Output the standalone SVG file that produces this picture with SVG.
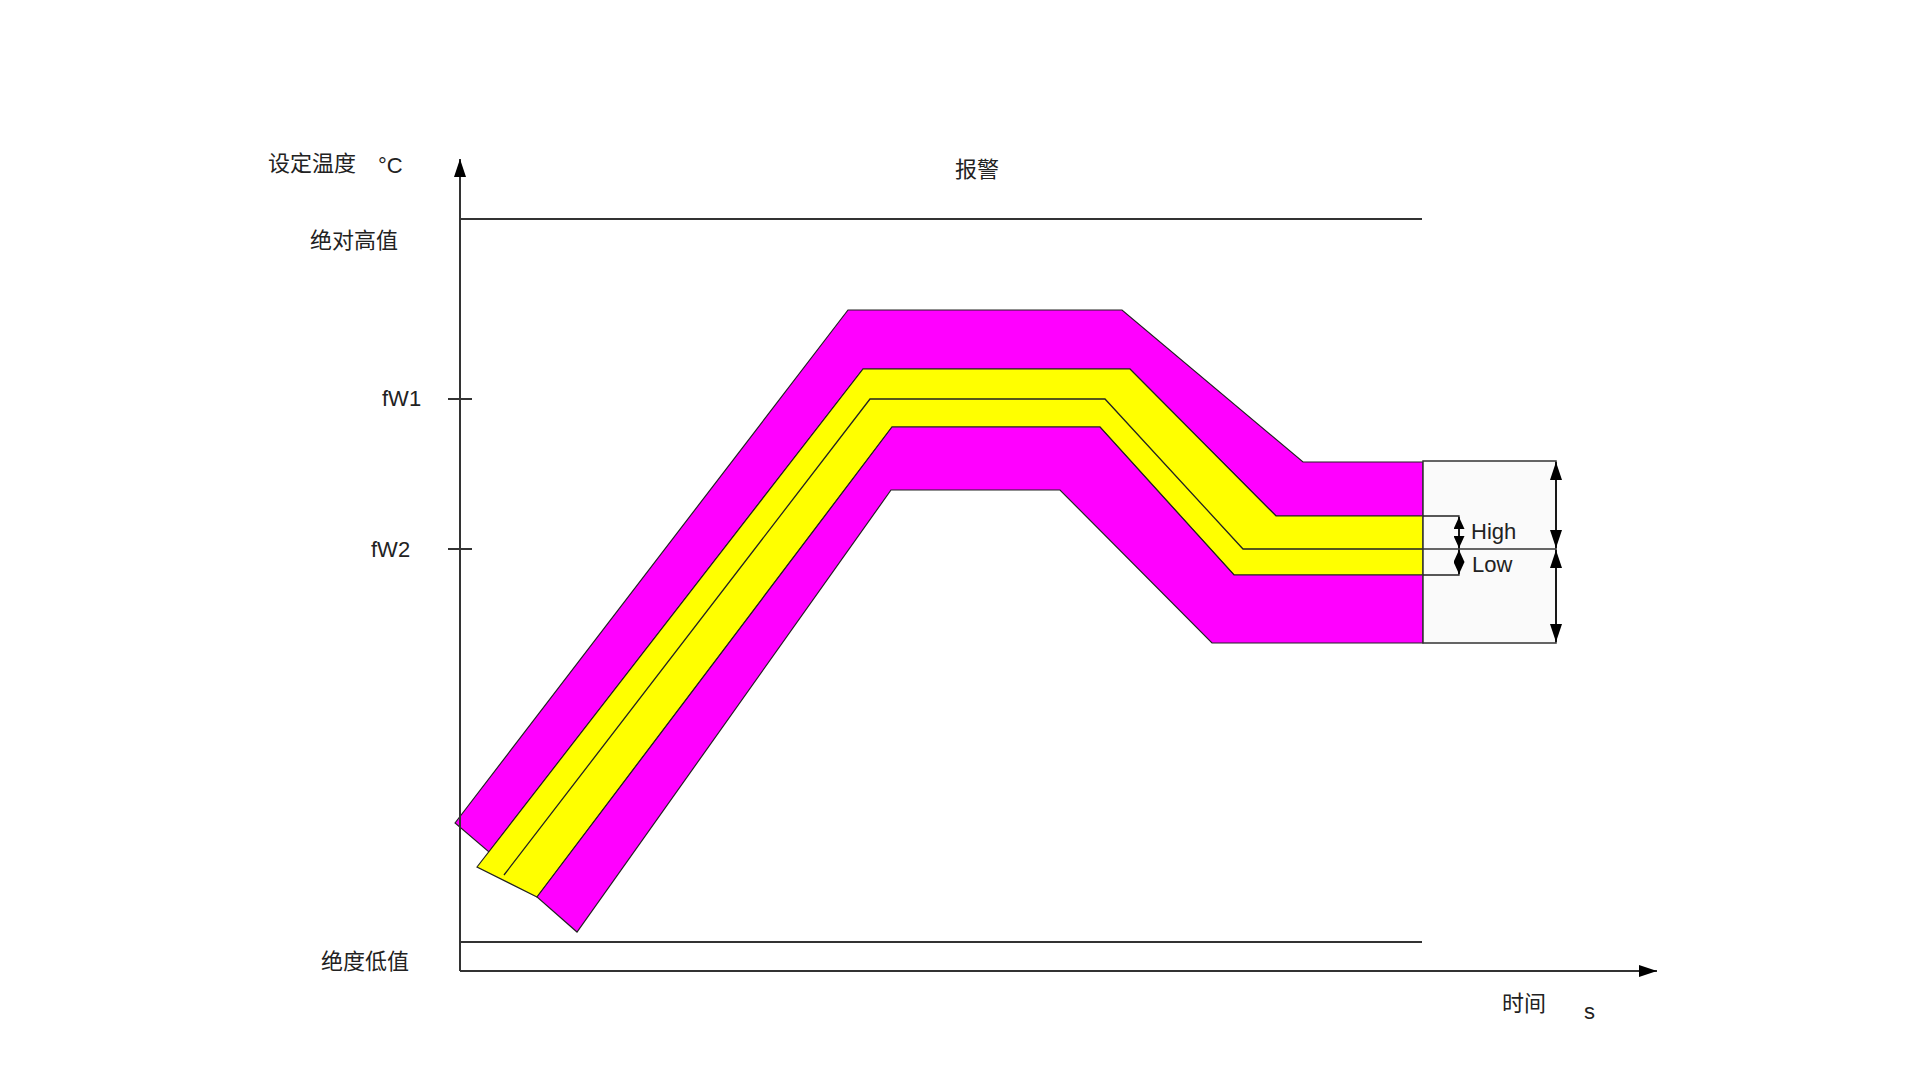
<svg xmlns="http://www.w3.org/2000/svg" width="1920" height="1080" viewBox="0 0 1920 1080">
<defs>
<style>
.cjk{font-family:"Noto Sans CJK SC","Liberation Sans",sans-serif;font-size:22px;fill:#222}
.lat{font-family:"Liberation Sans",Arial,sans-serif;font-size:22px;fill:#222}
.band{stroke:#222;stroke-width:1.2;stroke-linejoin:miter}
.mag{fill:#ff00ff}
.yel{fill:#ffff00}
.ln{fill:none;stroke:#333;stroke-width:2}
.thin{fill:none;stroke:#222;stroke-width:1.3}
</style>
<marker id="ah" viewBox="0 0 10 10" refX="10" refY="5" markerWidth="18" markerHeight="12" markerUnits="userSpaceOnUse" orient="auto-start-reverse" preserveAspectRatio="none">
<path d="M0,0 L10,5 L0,10 z" fill="#000"/>
</marker>
<marker id="ahs" viewBox="0 0 10 10" refX="10" refY="5" markerWidth="12" markerHeight="11" markerUnits="userSpaceOnUse" orient="auto-start-reverse" preserveAspectRatio="none">
<path d="M0,0 L10,5 L0,10 z" fill="#000"/>
</marker>
</defs>
<rect width="1920" height="1080" fill="#fff"/>

<g id="bands">
<polygon id="outer-magenta" class="band mag" points="455,823 848,310 1122,310 1303,462 1423,462 1423,516 1276,516 1130,369 863,369 489,852"/>
<polygon id="yellow-band" class="band yel" points="477,867 863,369 1130,369 1276,516 1423,516 1423,575 1234,575 1100,427 892,427 537,897"/>
<polygon id="inner-magenta" class="band mag" points="537,897 892,427 1100,427 1234,575 1423,575 1423,643 1212,643 1060,490 891,490 577,932"/>
<polyline id="setpoint-line" class="thin" points="504,875 870,399 1105,399 1243,549 1423,549"/>
</g>

<g id="tolerance-box">
<rect x="1423" y="461" width="133" height="182" fill="#fafafa" stroke="#333" stroke-width="1.5"/>
<line x1="1423" y1="549" x2="1556" y2="549" stroke="#333" stroke-width="1.5"/>
<polyline class="thin" points="1423,516 1459,516 1459,575 1423,575"/>
</g>

<g id="connectors">
<line class="ln" x1="460" y1="971" x2="460" y2="159" marker-end="url(#ah)"/>
<line class="ln" x1="460" y1="971" x2="1657" y2="971" marker-end="url(#ah)"/>
<line class="ln" x1="460" y1="219" x2="1422" y2="219"/>
<line class="ln" x1="460" y1="942" x2="1422" y2="942"/>
<line class="ln" x1="448" y1="399" x2="472" y2="399"/>
<line class="ln" x1="448" y1="549" x2="472" y2="549"/>
<line x1="1556" y1="462" x2="1556" y2="548" stroke="#000" stroke-width="1.5" marker-start="url(#ah)" marker-end="url(#ah)"/>
<line x1="1556" y1="550" x2="1556" y2="642" stroke="#000" stroke-width="1.5" marker-start="url(#ah)" marker-end="url(#ah)"/>
<line x1="1459" y1="517" x2="1459" y2="548" stroke="#000" stroke-width="1.5" marker-start="url(#ahs)" marker-end="url(#ahs)"/>
<line x1="1459" y1="550" x2="1459" y2="574" stroke="#000" stroke-width="1.5" marker-start="url(#ahs)" marker-end="url(#ahs)"/>
</g>

<g id="labels">
<text class="cjk" x="268" y="171" font-size="23">设定温度</text>
<text class="lat" x="378" y="173" font-size="24">°C</text>
<text class="cjk" x="310" y="248" font-size="23">绝对高值</text>
<text class="cjk" x="955" y="177" font-size="24">报警</text>
<text class="lat" x="382" y="406" font-size="23">fW1</text>
<text class="lat" x="371" y="557" font-size="23">fW2</text>
<text class="cjk" x="321" y="969" font-size="23">绝度低值</text>
<text class="cjk" x="1502" y="1011" font-size="23">时间</text>
<text class="lat" x="1584" y="1019" font-size="20">s</text>
<text class="lat" x="1471" y="539" font-size="23">High</text>
<text class="lat" x="1472" y="572" font-size="23">Low</text>
</g>
</svg>
